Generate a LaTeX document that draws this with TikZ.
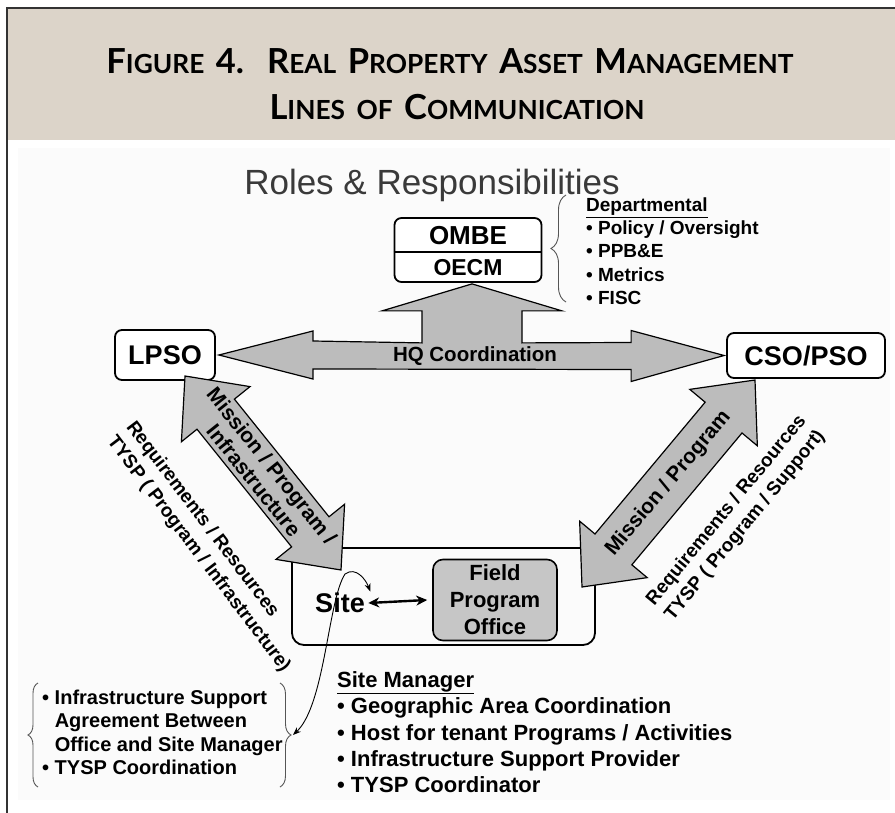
\documentclass[tikz,border=0pt]{standalone}
\usepackage{fontspec}
\setmainfont{Liberation Sans}
\newfontfamily\titlefont{Lato}
\usetikzlibrary{arrows.meta, positioning, calc, decorations.pathreplacing}

\definecolor{bandtan}{HTML}{DCD4C9}
\definecolor{arrowgray}{HTML}{BCBCBC}
\definecolor{officegray}{HTML}{C6C6C6}
\definecolor{bracegray}{HTML}{555555}
\definecolor{rolegray}{HTML}{3A3A3A}

\newcommand\fsz[2]{\fontsize{#1}{#2}\selectfont}
\newcommand\tcap[2]{{\fsz{34.5}{34.5}#1}{\fsz{26.3}{26.3}#2}}
\newcommand\tgap{\hspace{11.5pt}}

% fat double arrow between two tips
\newcommand\fatarrow[2]{%
  \draw[fatarrow] (#1)
    -- ($(#1)!49pt!(#2)!44pt!90:(#2)$) -- ($(#1)!49pt!(#2)!24pt!90:(#2)$)
    -- ($(#2)!49pt!(#1)!24pt!-90:(#1)$) -- ($(#2)!49pt!(#1)!44pt!-90:(#1)$)
    -- (#2)
    -- ($(#2)!49pt!(#1)!44pt!90:(#1)$) -- ($(#2)!49pt!(#1)!24pt!90:(#1)$)
    -- ($(#1)!49pt!(#2)!24pt!-90:(#2)$) -- ($(#1)!49pt!(#2)!44pt!-90:(#2)$)
    -- cycle;}

\tikzset{
  orgbox/.style={draw, line width=1.8pt, rounded corners=7pt, fill=white,
    font=\bfseries\fsz{27}{27}, inner sep=0pt},
  fatarrow/.style={draw, line width=1.2pt, fill=arrowgray, line join=miter},
  arrowtext/.style={font=\bfseries\fsz{21}{23}, align=center, inner sep=0pt},
  sidetext/.style={font=\bfseries\fsz{19}{24}, inner sep=0pt},
  listtext/.style={anchor=north west, inner sep=0pt, align=left},
  curly/.style={decorate, decoration={brace, amplitude=#1}, draw=bracegray, line width=0.9pt},
}

\begin{document}
\begin{tikzpicture}[x=1pt, y=-1pt]
\useasboundingbox (0,0) rectangle (895,813);

% frame and title band
\fill[bandtan] (7,8) rectangle (895,140);
\fill[black!1.5] (18,148) rectangle (890,800);
\draw[line width=2pt, black!80] (7,813) -- (7,8) -- (895,8);
\node[font=\titlefont\bfseries, anchor=base] (title1) at (450,74)
  {\tcap{F}{IGURE}\tgap\tcap{4.}{}\tgap\tgap\tcap{R}{EAL}\tgap\tcap{P}{ROPERTY}\tgap\tcap{A}{SSET}\tgap\tcap{M}{ANAGEMENT}};
\node[font=\titlefont\bfseries, anchor=base] (title2) at (457,120)
  {\tcap{L}{INES}\tgap\tcap{}{OF}\tgap\tcap{C}{OMMUNICATION}};

\node[font=\fsz{35}{35}, text=rolegray] (roles) at (432,185) {Roles \& Responsibilities};

% boxes
\node[orgbox, minimum width=147, minimum height=64] (ombe) at (468,250) {};
\node[font=\bfseries\fsz{26}{26}] (ombetxt) at (468,236) {OMBE};
\node[font=\bfseries\fsz{23}{23}] (oecmtxt) at (468,268) {OECM};
\draw[line width=1.8pt] ($(ombe.west)+(0,2)$) -- ($(ombe.east)+(0,2)$);

\node[orgbox, minimum width=100, minimum height=50] (lpso) at (165,355) {LPSO};
\node[orgbox, minimum width=158, minimum height=45] (cso) at (806,355.5) {CSO/PSO};

\node[draw, line width=1.8pt, rounded corners=12pt, minimum width=303, minimum height=97] (site) at (443.5,596.5) {};
\node[draw, line width=1.6pt, rounded corners=10pt, fill=officegray, minimum width=124, minimum height=81,
  font=\bfseries\fsz{22}{27}, align=center, inner sep=0pt] (fpo) at (495,600) {Field\\Program\\Office};
\node[font=\bfseries\fsz{27}{27}] (sitetxt) at (340,603) {Site};
\draw[{Stealth[length=11pt,width=10pt]}-{Stealth[length=11pt,width=10pt]}, line width=2.4pt]
  (sitetxt.east) -- ($(fpo.west)+(-5,0)$);

% HQ coordination arrow
\coordinate (hqL) at ($(lpso.east)+(3,0)$);
\coordinate (hqR) at ($(cso.west)+(-2,0)$);
\coordinate (hqT) at ($(ombe.south)+(4,1)$);
\draw[fatarrow] (hqL) -- ++(94,-24) -- ++(0,10)
  -- ($(hqT)+(-50,59)$) -- ($(hqT)+(-50,27)$) -- ($(hqT)+(-90,27)$) -- (hqT)
  -- ($(hqT)+(90,27)$) -- ($(hqT)+(50,27)$) -- ($(hqT)+(50,59)$)
  -- ($(hqR)+(-93,-13)$) -- ($(hqR)+(-93,-25)$) -- (hqR)
  -- ($(hqR)+(-93,26)$) -- ($(hqR)+(-93,14)$)
  -- ($(hqL)+(94,14)$) -- ($(hqL)+(94,24)$) -- cycle;
\node[font=\bfseries\fsz{20.5}{20.5}] (hqtext) at (475,356) {HQ Coordination};

% diagonal arrows
\coordinate (lt) at (185,376);
\coordinate (lb) at (341,570);
\coordinate (rt) at (755,380);
\coordinate (rb) at (582,587);
\fatarrow{lt}{lb}
\fatarrow{rt}{rb}
\node[arrowtext, rotate=-51.3] (mpi) at ($(lt)!0.5!(lb)$) {Mission / Program /\\Infrastructure};
\node[arrowtext, rotate=50] (mp) at ($(rt)!0.5!(rb)$) {Mission / Program};

\node[sidetext, rotate=-52.8, align=left] (reqleft) at (208,547)
  {Requirements / Resources\\TYSP ( Program / Infrastructure)};
\node[sidetext, rotate=50.6, align=center] (reqright) at (736,518)
  {Requirements / Resources\\TYSP ( Program / Support)};

% departmental list
\draw[curly=15pt] (566,302) -- (566,195);
\node[listtext, font=\bfseries\fsz{19}{23.2}] (dept) at (586,195)
  {\begin{tabular}{@{}l@{ }l@{}}
   \multicolumn{2}{@{}l@{}}{\underline{Departmental}}\\
   • & Policy / Oversight\\
   • & PPB\&E\\
   • & Metrics\\
   • & FISC
   \end{tabular}};

% site manager list
\node[listtext, font=\bfseries\fsz{22}{26.3}] (sitemgr) at (337,669)
  {\begin{tabular}{@{}l@{ }l@{}}
   \multicolumn{2}{@{}l@{}}{\underline{Site Manager}}\\
   • & Geographic Area Coordination\\
   • & Host for tenant Programs / Activities\\
   • & Infrastructure Support Provider\\
   • & TYSP Coordinator
   \end{tabular}};

% support agreement list
\draw[curly=10pt] (38,787) -- (38,683);
\draw[curly=11pt] (280,683) -- (280,787);
\coordinate (bracetip) at (293,735);
\node[listtext, font=\bfseries\fsz{20}{23.3}] (isa) at (42,688)
  {\begin{tabular}{@{}l@{ }l@{}}
   • & Infrastructure Support\\
     & Agreement Between\\
     & Office and Site Manager\\
   • & TYSP Coordination
   \end{tabular}};

\draw[{Stealth[length=8pt,width=6pt]}-{Stealth[length=8pt,width=6pt]}, line width=0.9pt]
  (bracetip) .. controls (325,705) and (328,600) .. (345,574)
  .. controls (356,566) and (366,580) .. ($(sitetxt.north east)+(2,2)$);
\end{tikzpicture}
\end{document}
